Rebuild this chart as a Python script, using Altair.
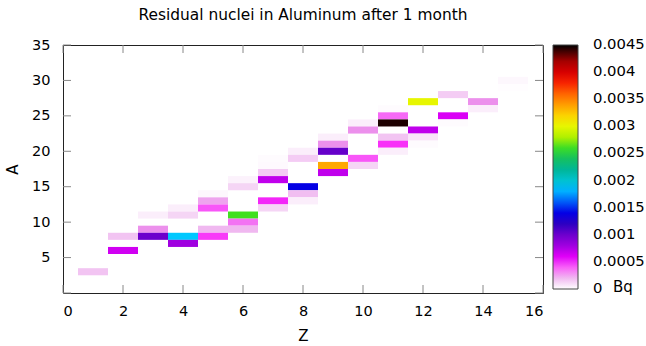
import altair as alt
import pandas as pd

# ---- data ----
Z = [1, 2, 2, 3, 3, 3, 4, 4, 4, 4, 5, 5, 5, 5, 5, 6, 6, 6, 6, 6,
     7, 7, 7, 7, 7, 7, 8, 8, 8, 8, 8, 9, 9, 9, 9, 9, 10, 10, 10, 10,
     11, 11, 11, 11, 11, 11, 12, 12, 12, 12, 13, 13, 13, 14, 14, 15, 15]
A = [3, 8, 6, 11, 9, 8, 12, 11, 8, 7, 14, 13, 12, 9, 8, 16, 15, 11, 10, 9,
     19, 18, 17, 16, 13, 12, 20, 19, 15, 14, 13, 22, 21, 20, 18, 17, 24, 23, 19, 18,
     26, 25, 24, 22, 21, 20, 27, 23, 22, 21, 28, 25, 24, 27, 26, 30, 29]
Bq = [0.00016, 0.00016, 0.00065, 0.00004, 0.0003, 0.001, 0.00004, 0.0001, 0.00186, 0.0008,
      0.00002, 0.00025, 0.00042, 0.0002, 0.00048, 0.00003, 0.0001, 0.00262, 0.00036, 0.0002,
      0.00001, 0.000015, 0.00013, 0.0007, 0.00052, 0.0001,
      0.00004, 0.00013, 0.0014, 0.00018, 0.00004,
      0.00004, 0.0003, 0.00103, 0.00336, 0.0007,
      0.00004, 0.0003, 0.00042, 0.0001,
      0.00001, 0.00038, 0.00445, 0.00016, 0.0005, 0.00004,
      0.003, 0.0007, 0.00006, 0.00001,
      0.00013, 0.00062, 0.00001,
      0.0003, 0.00004,
      0.00002, 0.000005]

x_ticks = [0, 2, 4, 6, 8, 10, 12, 14, 16]
y_ticks = [0, 5, 10, 15, 20, 25, 30, 35]
y_labels = [5, 10, 15, 20, 25, 30, 35]
cb_labels = [0, 0.0005, 0.001, 0.0015, 0.002, 0.0025, 0.003, 0.0035, 0.004, 0.0045]
cb_dashes = [0.0005, 0.001, 0.0015, 0.002, 0.0025, 0.003, 0.0035, 0.004]

# palette stops (value -> colour)
pal_dom = [0, 0.0001, 0.0002, 0.0003, 0.0004, 0.0005, 0.0006, 0.0008, 0.00105, 0.00124,
           0.00142, 0.00168, 0.00186, 0.00205, 0.00229, 0.00262, 0.0028, 0.00306, 0.00336,
           0.00367, 0.0039, 0.00422, 0.0045]
pal_rng = ["#ffffff", "#f5d5f5", "#f0b8f0", "#ec90ec", "#f860f8", "#f830f8", "#e000f8",
           "#a000e0", "#6000c8", "#2000c0", "#0000e8", "#0080ff", "#00c8ff", "#00c0c0",
           "#00b080", "#40e020", "#b0f000", "#f8f800", "#ffa800", "#ff5000", "#f00000",
           "#a00000", "#000000"]

FONT = "DejaVu Sans"
W, H = 480, 248
CB_LEN = 244
LBL = 14.5

df = pd.DataFrame({"Z": Z, "A": A, "Bq": Bq})
xt = pd.DataFrame({"t": x_ticks})
yt = pd.DataFrame({"t": y_ticks})
cbd = pd.DataFrame({"v": cb_dashes})
cbl = pd.DataFrame({"v": cb_labels})

xs = alt.Scale(domain=[0, 16], nice=False, zero=False)
ys = alt.Scale(domain=[0, 35], nice=False, zero=False)

heat = alt.Chart(df).transform_calculate(
    x0="datum.Z - 0.5", x1="datum.Z + 0.5", y0="datum.A - 0.5", y1="datum.A + 0.5"
).mark_rect(strokeWidth=0).encode(
    x=alt.X("x0:Q", scale=xs, title="Z",
            axis=alt.Axis(values=x_ticks, ticks=False, domain=False, grid=False,
                          labelPadding=11, titlePadding=11)),
    x2="x1:Q",
    y=alt.Y("y0:Q", scale=ys, title="A",
            axis=alt.Axis(values=y_labels, ticks=False, domain=False, grid=False,
                          labelPadding=13, titlePadding=11)),
    y2="y1:Q",
    color=alt.Color("Bq:Q",
                    scale=alt.Scale(domain=pal_dom, range=pal_rng, interpolate="rgb"),
                    legend=alt.Legend(orient="none", legendX=490, legendY=0,
                                      direction="vertical", title=None, labelOpacity=0,
                                      labelExpr="''", labelFontSize=1,
                                      values=[0, 0.0045],
                                      gradientLength=CB_LEN, gradientThickness=25,
                                      gradientStrokeColor="#444", gradientStrokeWidth=1)),
)

tick_col = "#888888"
xb = alt.Chart(xt).mark_rule(color=tick_col).encode(
    x=alt.X("t:Q", scale=xs), y=alt.value(H), y2=alt.value(H - 8))
xtop = alt.Chart(xt).mark_rule(color=tick_col).encode(
    x=alt.X("t:Q", scale=xs), y=alt.value(0), y2=alt.value(8))
yl = alt.Chart(yt).mark_rule(color=tick_col).encode(
    y=alt.Y("t:Q", scale=ys), x=alt.value(0), x2=alt.value(8))
yr = alt.Chart(yt).mark_rule(color=tick_col).encode(
    y=alt.Y("t:Q", scale=ys), x=alt.value(W - 8), x2=alt.value(W))

bq = alt.Chart(pd.DataFrame({"u": ["Bq"]})).mark_text(
    font=FONT, fontSize=15, align="left", baseline="alphabetic", color="black"
).encode(x=alt.value(550), y=alt.value(247), text="u:N")

cbs = alt.Scale(domain=[0, 0.0045], range=[CB_LEN, 0], nice=False)
dl = alt.Chart(cbd).mark_rule(color="#222", strokeDash=[4, 2]).encode(
    y=alt.Y("v:Q", scale=cbs, axis=None), x=alt.value(490), x2=alt.value(498))
dr = alt.Chart(cbd).mark_rule(color="#222", strokeDash=[4, 2]).encode(
    y=alt.Y("v:Q", scale=cbs, axis=None), x=alt.value(507), x2=alt.value(515))
cbt = alt.Chart(cbl).mark_text(
    font=FONT, fontSize=14.8, align="left", baseline="middle", color="black"
).encode(y=alt.Y("v:Q", scale=cbs, axis=None), x=alt.value(530),
         text=alt.Text("v:Q", format=".4~f"))

main = alt.layer(heat, xb, xtop, yl, yr, bq)
chart = alt.layer(main, alt.layer(dl, dr, cbt)).resolve_scale(y="independent")

chart = chart.properties(
    width=W, height=H,
    title=alt.TitleParams("Residual nuclei in Aluminum after 1 month", font=FONT,
                          fontSize=15.4, fontWeight="normal", color="black",
                          anchor="middle", frame="group", offset=14),
    autosize=alt.AutoSizeParams(type="none"),
    padding={"left": 63, "top": 45, "right": 103, "bottom": 53},
).configure_view(stroke="#222", strokeWidth=1).configure_axis(
    labelFont=FONT, labelFontSize=LBL, labelColor="black",
    titleFont=FONT, titleFontSize=15, titleColor="black", titleFontWeight="normal"
)

chart.save("out.html", embed_options={"renderer": "svg", "actions": False})
